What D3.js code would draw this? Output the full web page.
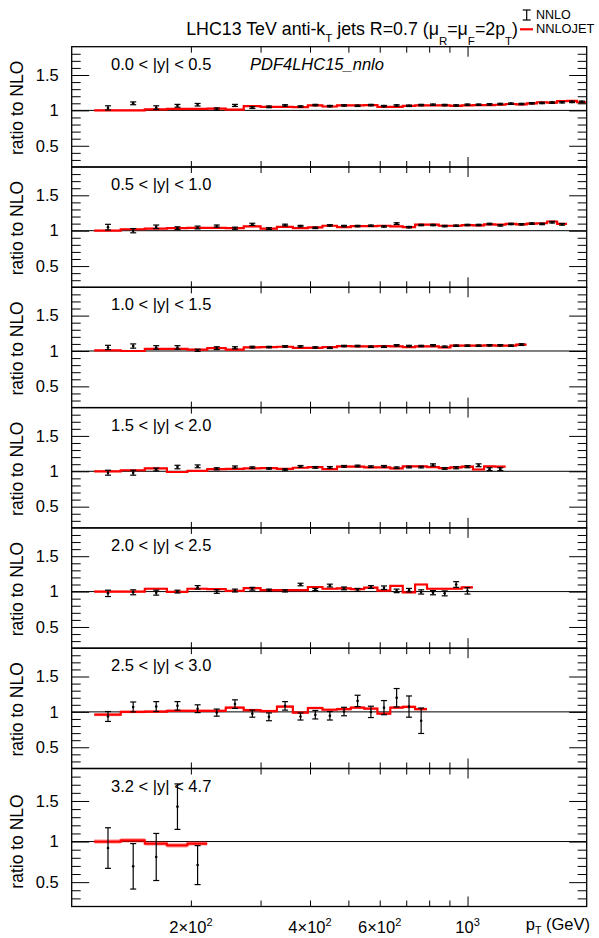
<!DOCTYPE html>
<html>
<head>
<meta charset="utf-8">
<script src="https://cdn.jsdelivr.net/npm/d3@7"></script>
<style>
html,body{margin:0;padding:0;background:#fff;}
svg{display:block;font-family:"Liberation Sans",Arial,Helvetica,sans-serif;}
</style>
</head>
<body>
<svg id="chart" width="599" height="938"></svg>
<script>
// ---------------- DATA ----------------
const binEdges = [114,133,153,174,196,220,245,272,300,330,362,395,430,468,507,548,592,638,686,737,790,846,905,967,1032,1101,1172,1248,1327,1410,1497,1588,1684,1784,1890,2000];

const rapidityLabels = ["0.0 < |y| < 0.5","0.5 < |y| < 1.0","1.0 < |y| < 1.5","1.5 < |y| < 2.0","2.0 < |y| < 2.5","2.5 < |y| < 3.0","3.2 < |y| < 4.7"];

// NNLOJET ratio (red histogram)
const nnlojet_y0 = [1.00,1.00,1.015,1.02,1.02,1.025,1.01,1.06,1.05,1.05,1.045,1.07,1.055,1.07,1.07,1.075,1.05,1.05,1.065,1.07,1.07,1.07,1.065,1.07,1.075,1.075,1.08,1.09,1.085,1.10,1.115,1.11,1.13,1.135,1.115];
const nnlojet_y1 = [1.0,1.02,1.03,1.035,1.04,1.04,1.035,1.06,1.03,1.055,1.035,1.047,1.07,1.05,1.065,1.065,1.07,1.06,1.05,1.085,1.085,1.07,1.07,1.08,1.075,1.09,1.085,1.095,1.09,1.1,1.105,1.13,1.095];
const nnlojet_y2 = [1.01,1.0,1.03,1.03,1.02,1.04,1.02,1.05,1.055,1.06,1.045,1.045,1.055,1.07,1.065,1.065,1.07,1.065,1.055,1.065,1.065,1.05,1.075,1.075,1.075,1.08,1.075,1.075,1.09];
const nnlojet_y3 = [1.0,1.015,1.04,0.99,1.005,1.03,1.035,1.04,1.045,1.035,1.05,1.06,1.03,1.065,1.065,1.055,1.055,1.04,1.07,1.07,1.06,1.045,1.055,1.065,1.025,1.07,1.065];
const nnlojet_y4 = [1.0,1.0,1.04,0.995,1.04,1.035,1.01,1.05,1.02,1.02,1.02,1.065,1.04,1.045,1.035,1.055,1.015,1.08,0.99,1.1,1.04,1.04,1.04,1.06];
const nnlojet_y5 = [0.96,1.0,1.005,1.015,1.015,1.015,1.06,1.025,1.01,1.075,0.99,1.055,1.03,1.04,1.06,1.045,0.975,1.06,1.07,1.04];
const nnlojet_y6 = [1.0,1.015,0.975,0.953,0.975];
const nnlojetBand = [0.012,0.012,0.012,0.012,0.014,0.02,0.028];

// NNLO points with errors
const nnlo_y0 = [1.035,1.10,1.04,1.065,1.08,1.02,1.07,1.04,1.05,1.07,1.055,1.075,1.06,1.07,1.065,1.075,1.06,1.07,1.065,1.075,1.08,1.075,1.07,1.08,1.08,1.085,1.09,1.095,1.09,1.10,1.105,1.11,1.115,1.12,1.12];
const nnloErr_y0 = [0.03,0.02,0.025,0.02,0.018,0.015,0.015,0.013,0.012,0.01,0.01,0.01,0.01,0.01,0.01,0.01,0.01,0.01,0.01,0.01,0.01,0.01,0.01,0.01,0.01,0.01,0.01,0.01,0.01,0.01,0.01,0.01,0.01,0.01,0.012];
const nnlo_y1 = [1.05,1.0,1.055,1.035,1.045,1.065,1.035,1.09,1.03,1.08,1.065,1.04,1.075,1.065,1.065,1.07,1.06,1.1,1.05,1.08,1.08,1.065,1.07,1.08,1.08,1.095,1.075,1.095,1.09,1.1,1.095,1.12,1.09];
const nnloErr_y1 = [0.04,0.03,0.025,0.02,0.02,0.015,0.015,0.015,0.012,0.012,0.01,0.01,0.01,0.01,0.01,0.01,0.01,0.012,0.01,0.01,0.01,0.01,0.01,0.01,0.01,0.01,0.01,0.01,0.01,0.01,0.01,0.012,0.012];
const nnlo_y2 = [1.05,1.07,1.05,1.05,1.01,1.04,1.045,1.055,1.055,1.065,1.065,1.05,1.045,1.07,1.07,1.06,1.06,1.08,1.07,1.07,1.08,1.06,1.075,1.075,1.075,1.08,1.08,1.075,1.09];
const nnloErr_y2 = [0.03,0.03,0.025,0.025,0.015,0.02,0.015,0.012,0.01,0.01,0.01,0.01,0.01,0.01,0.01,0.01,0.01,0.01,0.01,0.01,0.01,0.01,0.01,0.01,0.01,0.01,0.01,0.01,0.012];
const nnlo_y3 = [0.98,0.98,1.025,1.06,1.07,1.035,1.06,1.05,1.04,1.025,1.07,1.055,1.055,1.07,1.075,1.065,1.07,1.05,1.06,1.06,1.09,1.04,1.05,1.065,1.085,1.03,1.03];
const nnloErr_y3 = [0.035,0.035,0.02,0.025,0.02,0.015,0.015,0.012,0.01,0.01,0.012,0.012,0.012,0.012,0.012,0.012,0.012,0.012,0.012,0.012,0.015,0.012,0.015,0.015,0.02,0.02,0.02];
const nnlo_y4 = [0.975,0.99,0.985,1.0,1.06,1.0,1.015,1.04,1.02,1.01,1.1,1.03,1.085,1.045,1.025,1.065,1.055,1.01,1.02,0.995,0.985,0.975,1.1,1.01];
const nnloErr_y4 = [0.045,0.035,0.035,0.02,0.025,0.025,0.02,0.02,0.015,0.015,0.018,0.015,0.02,0.02,0.02,0.02,0.025,0.025,0.025,0.03,0.03,0.035,0.04,0.045];
const nnlo_y5 = [0.935,1.07,1.075,1.085,1.045,0.99,1.11,0.975,0.93,1.085,0.935,0.96,0.945,1.005,1.155,1.0,1.06,1.2,1.075,0.875];
const nnloErr_y5 = [0.07,0.07,0.07,0.06,0.055,0.05,0.06,0.05,0.055,0.06,0.05,0.06,0.06,0.06,0.08,0.08,0.1,0.13,0.15,0.18];
const nnlo_y6 = [0.92,0.695,0.81,1.43,0.71];
const nnloErr_y6 = [0.25,0.28,0.29,0.28,0.24];

const xTickValues = [200,300,400,500,600,700,800,900,1000];
const xLabelTicks = [{v:200,base:"2\u00D710",sup:"2"},{v:400,base:"4\u00D710",sup:"2"},{v:600,base:"6\u00D710",sup:"2"},{v:1000,base:"10",sup:"3"}];
const yMinorTicks = [0.3,0.4,0.6,0.7,0.8,0.9,1.1,1.2,1.3,1.4,1.6,1.7,1.8];
const yMajorTicks = [0.5,1,1.5];

const jetSeries = [nnlojet_y0,nnlojet_y1,nnlojet_y2,nnlojet_y3,nnlojet_y4,nnlojet_y5,nnlojet_y6];
const nnloSeries = [nnlo_y0,nnlo_y1,nnlo_y2,nnlo_y3,nnlo_y4,nnlo_y5,nnlo_y6];
const nnloErrSeries = [nnloErr_y0,nnloErr_y1,nnloErr_y2,nnloErr_y3,nnloErr_y4,nnloErr_y5,nnloErr_y6];

// ---------------- LAYOUT ----------------
const svg = d3.select("#chart");
const xL = 71.7, xR = 586.7;
const x = d3.scaleLog().domain([100,2000]).range([xL,xR]);
const firstTop = 46.7, panelH = 120.3, lastH = 138;
const FS = 16.5;

function drawPanel(i){
  const top = firstTop + i*panelH;
  const h = (i===6) ? lastH : panelH;
  const y = d3.scaleLinear().domain([0.2,1.9]).range([top+h, top]);
  const g = svg.append("g");

  // unity line
  g.append("line").attr("x1",xL).attr("x2",xR).attr("y1",y(1)).attr("y2",y(1))
    .attr("stroke","#000").attr("stroke-width",1);

  // NNLOJET histogram
  const vals = jetSeries[i];
  const pts = [];
  vals.forEach((v,k)=>{ pts.push([binEdges[k],v]); pts.push([binEdges[k+1],v]); });
  const b = nnlojetBand[i];
  g.append("path").datum(pts)
    .attr("d", d3.area().x(d=>x(d[0])).y0(d=>y(d[1]-b)).y1(d=>y(d[1]+b)))
    .attr("fill","#ff0000").attr("fill-opacity",0.3).attr("stroke","none");
  g.append("path").datum(pts)
    .attr("d", d3.line().x(d=>x(d[0])).y(d=>y(d[1])))
    .attr("fill","none").attr("stroke","#ff0000").attr("stroke-width",2.2);

  // NNLO points
  const pv = nnloSeries[i], pe = nnloErrSeries[i];
  const pd = pv.map((v,k)=>({xc:(binEdges[k]+binEdges[k+1])/2, v, e:pe[k]}));
  const pg = g.append("g").attr("stroke","#000").attr("stroke-width",1.2);
  pd.forEach(d=>{
    const cx = x(d.xc);
    pg.append("line").attr("x1",cx).attr("x2",cx).attr("y1",y(d.v-d.e)).attr("y2",y(d.v+d.e));
    pg.append("line").attr("x1",cx-3).attr("x2",cx+3).attr("y1",y(d.v-d.e)).attr("y2",y(d.v-d.e));
    pg.append("line").attr("x1",cx-3).attr("x2",cx+3).attr("y1",y(d.v+d.e)).attr("y2",y(d.v+d.e));
  });
  g.selectAll("circle.pt").data(pd).join("circle").attr("class","pt")
    .attr("cx",d=>x(d.xc)).attr("cy",d=>y(d.v)).attr("r",1.3).attr("fill","#000");

  // axes ticks
  const tickStyle = sel => { sel.select(".domain").remove(); sel.selectAll("line").attr("stroke","#000").attr("stroke-width",1); };
  g.append("g").attr("transform",`translate(${xL},0)`)
    .call(d3.axisLeft(y).tickValues(yMinorTicks).tickSize(-9).tickFormat(""))
    .call(tickStyle);
  const lm = g.append("g").attr("transform",`translate(${xL},0)`)
    .call(d3.axisLeft(y).tickValues(yMajorTicks).tickSize(-17.5).tickPadding(13).tickFormat(d=>d===1?"1":String(d)))
    .call(tickStyle);
  lm.selectAll("text").attr("font-size",FS).attr("fill","#000").attr("font-family","Liberation Sans, Arial, sans-serif");
  g.append("g").attr("transform",`translate(${xR},0)`)
    .call(d3.axisRight(y).tickValues(yMinorTicks).tickSize(-9).tickFormat(""))
    .call(tickStyle);
  g.append("g").attr("transform",`translate(${xR},0)`)
    .call(d3.axisRight(y).tickValues(yMajorTicks).tickSize(-17.5).tickFormat(""))
    .call(tickStyle);
  // bottom x ticks (inward, upward)
  g.append("g").attr("transform",`translate(0,${top+h})`)
    .call(d3.axisBottom(x).tickValues(xTickValues.filter(v=>v!==1000)).tickSize(-6).tickFormat(""))
    .call(tickStyle);
  g.append("g").attr("transform",`translate(0,${top+h})`)
    .call(d3.axisBottom(x).tickValues([1000]).tickSize(-10).tickFormat(""))
    .call(tickStyle);
  // top x ticks (inward, downward)
  g.append("g").attr("transform",`translate(0,${top})`)
    .call(d3.axisTop(x).tickValues(xTickValues.filter(v=>v!==1000)).tickSize(-6).tickFormat(""))
    .call(tickStyle);
  g.append("g").attr("transform",`translate(0,${top})`)
    .call(d3.axisTop(x).tickValues([1000]).tickSize(-10).tickFormat(""))
    .call(tickStyle);

  // frame
  g.append("rect").attr("x",xL).attr("y",top).attr("width",xR-xL).attr("height",h)
    .attr("fill","none").attr("stroke","#000").attr("stroke-width",1.3);

  // rapidity label
  g.append("text").attr("x",111).attr("y",top+23).attr("font-size",FS).text(rapidityLabels[i]);

  // y-axis title
  const cy = top + h/2 + (i===6 ? 4 : 1);
  g.append("text").attr("transform",`translate(23,${cy}) rotate(-90)`)
    .attr("text-anchor","middle").attr("font-size",17.5).text("ratio to NLO");

  if(i===6){
    xLabelTicks.forEach(t=>{
      const tx = svg.append("text").attr("x",x(t.v)).attr("y",933).attr("text-anchor","middle").attr("font-size",FS);
      tx.append("tspan").text(t.base);
      tx.append("tspan").attr("dy",-7).attr("font-size",11).text(t.sup);
    });
    const pt = svg.append("text").attr("x",590).attr("y",930).attr("text-anchor","end").attr("font-size",FS);
    pt.append("tspan").text("p");
    pt.append("tspan").attr("dy",4).attr("font-size",10.5).text("T");
    pt.append("tspan").attr("dy",-4).text(" (GeV)");
  }
}

for(let i=0;i<7;i++) drawPanel(i);

// PDF label
svg.append("text").attr("x",250).attr("y",firstTop+23).attr("font-size",FS).attr("font-style","italic").text("PDF4LHC15_nnlo");

// Title
const title = svg.append("text").attr("x",518).attr("y",35).attr("text-anchor","end").attr("font-size",17.8);
[["LHC13 TeV anti-k",0,0],["T",1,7],[" jets R=0.7 (\u03BC",0,0],["R",1,10],["=\u03BC",0,0],["F",1,10],["=2p",0,0],["T",1,10],[")",0,0]]
  .forEach((p,k,arr)=>{
    const ts = title.append("tspan").text(p[0]);
    if(p[1]===1){ ts.attr("dy",p[2]).attr("font-size",11.5); }
    else if(k>0 && arr[k-1][1]===1){ ts.attr("dy",-arr[k-1][2]); }
  });

// Legend
const lg = svg.append("g").attr("stroke","#000").attr("stroke-width",1.2);
lg.append("line").attr("x1",526.7).attr("x2",526.7).attr("y1",10).attr("y2",20);
lg.append("line").attr("x1",522.7).attr("x2",530.7).attr("y1",10).attr("y2",10);
lg.append("line").attr("x1",522.7).attr("x2",530.7).attr("y1",20).attr("y2",20);
svg.append("line").attr("x1",520).attr("x2",533).attr("y1",29.3).attr("y2",29.3).attr("stroke","#ff0000").attr("stroke-width",2.2);
svg.append("text").attr("x",536).attr("y",19.3).attr("font-size",12.5).text("NNLO");
svg.append("text").attr("x",536).attr("y",33.3).attr("font-size",12.8).text("NNLOJET");
</script>
</body>
</html>
